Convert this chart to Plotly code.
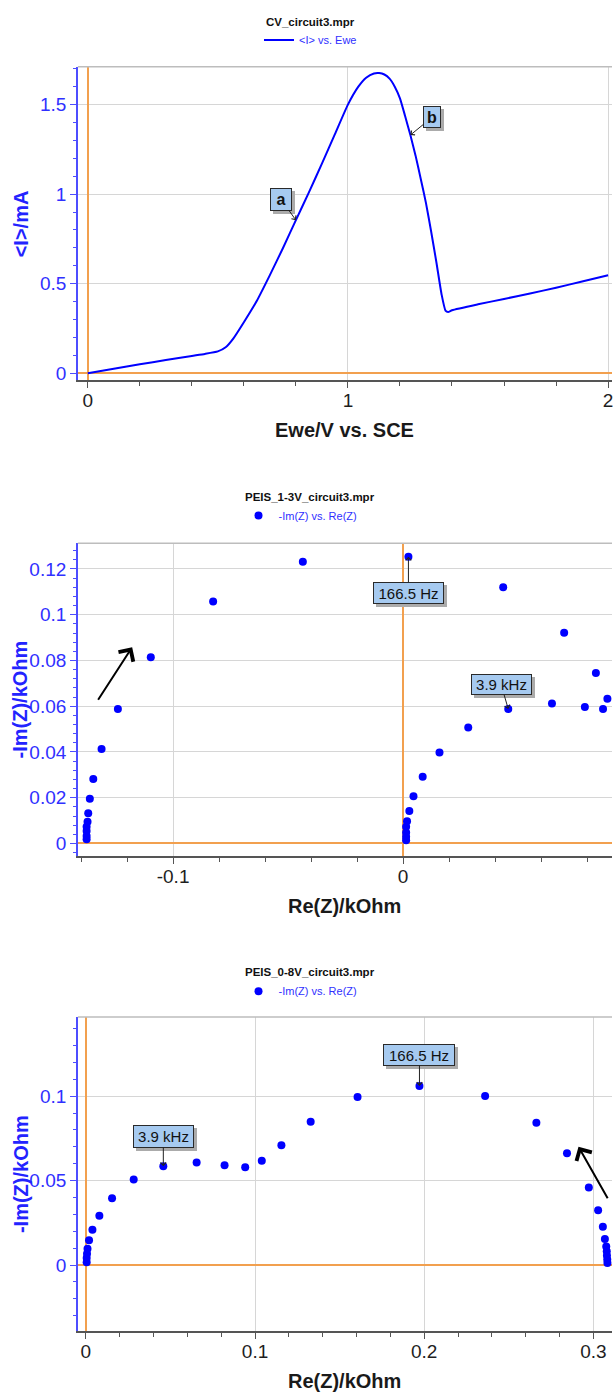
import plotly.graph_objects as go

# ---------------- data ----------------
cv_ewe = [0.00, 0.10, 0.20, 0.30, 0.40, 0.45, 0.50, 0.53, 0.56, 0.60, 0.65, 0.70,
          0.75, 0.80, 0.85, 0.90, 0.95, 1.00, 1.04, 1.07, 1.10, 1.12, 1.14, 1.16,
          1.18, 1.20, 1.22, 1.24, 1.26, 1.28, 1.30, 1.32, 1.34, 1.36, 1.375, 1.385,
          1.40, 1.50, 1.60, 1.70, 1.80, 1.90, 2.00]
cv_i = [0.000, 0.025, 0.050, 0.074, 0.097, 0.108, 0.122, 0.145, 0.195, 0.285, 0.405, 0.548,
        0.698, 0.855, 1.010, 1.170, 1.335, 1.500, 1.600, 1.650, 1.674, 1.676, 1.668, 1.645,
        1.600, 1.535, 1.435, 1.330, 1.215, 1.085, 0.950, 0.790, 0.620, 0.440, 0.350, 0.342,
        0.352, 0.385, 0.415, 0.445, 0.478, 0.512, 0.547]

peis13_re = [0.0013, 0.0013, 0.0013, 0.0013, 0.0017, 0.0027, 0.0045, 0.0085, 0.0158, 0.0283,
             0.0457, 0.0647, 0.0790, 0.0869, 0.0888, 0.0838, 0.0700, 0.0435, 0.0023, -0.0436,
             -0.0826, -0.1097, -0.1240, -0.1311, -0.1347, -0.1362, -0.1369, -0.1372, -0.1376,
             -0.1376, -0.1376, -0.1376]
peis13_im = [0.0014, 0.0029, 0.0048, 0.0073, 0.0097, 0.0142, 0.0206, 0.0292, 0.0398, 0.0507,
             0.0588, 0.0612, 0.0597, 0.0588, 0.0633, 0.0745, 0.0921, 0.1120, 0.1254, 0.1232,
             0.1058, 0.0814, 0.0588, 0.0413, 0.0282, 0.0196, 0.0132, 0.0095, 0.0073,
             0.0055, 0.0033, 0.0019]

peis08_re = [0.0005, 0.0005, 0.0007, 0.0010, 0.0019, 0.0039, 0.0080, 0.0155, 0.0283, 0.0458,
             0.0655, 0.0820, 0.0942, 0.1040, 0.1156, 0.1329, 0.1606, 0.1972, 0.2360, 0.2663,
             0.2844, 0.2973, 0.3028, 0.3056, 0.3068, 0.3076, 0.3079, 0.3080, 0.3082, 0.3083]
peis08_im = [0.0016, 0.0041, 0.0067, 0.0097, 0.0146, 0.0209, 0.0292, 0.0396, 0.0506, 0.0585,
             0.0608, 0.0591, 0.0579, 0.0617, 0.0709, 0.0849, 0.0995, 0.1061, 0.1001, 0.0843,
             0.0662, 0.0459, 0.0325, 0.0227, 0.0154, 0.0110, 0.0081, 0.0056, 0.0032, 0.0012]

panel_titles = ["CV_circuit3.mpr", "PEIS_1-3V_circuit3.mpr", "PEIS_0-8V_circuit3.mpr"]
series_names = ["<I> vs. Ewe", "-Im(Z) vs. Re(Z)", "-Im(Z) vs. Re(Z)"]
x_titles = ["Ewe/V vs. SCE", "Re(Z)/kOhm", "Re(Z)/kOhm"]
y_titles = ["<I>/mA", "-Im(Z)/kOhm", "-Im(Z)/kOhm"]
p2_x_tickvals = [-0.1, 0]
p2_x_ticktext = ["-0.1", "0"]

# labelled points: (text, index into the series)
cv_labels = [("a", 13), ("b", 27)]
p2_labels = [("166.5 Hz", 18), ("3.9 kHz", 10)]
p3_labels = [("3.9 kHz", 9), ("166.5 Hz", 17)]

# ---------------- styling ----------------
FONT = "Liberation Sans"
ORANGE = "#f2a04f"
GRID = "#d6d6d6"
BLUE_AX = "#4d4dff"
TXT_BLUE = "#3030ff"
DARK = "#555555"
W, H = 613, 1394


def px(p):
    return p / W


def py(p):
    return 1 - p / H


def esc(s):
    return s.replace("<", "&lt;").replace(">", "&gt;")


def xaxis_style(rng, dtick, mdtick, anchor, tickvals=None, ticktext=None):
    d = dict(domain=[px(78), 1], anchor=anchor, range=rng, tick0=0, dtick=dtick,
             showline=True, linecolor=DARK, linewidth=2, ticks="outside", ticklen=6,
             tickwidth=1, tickcolor=DARK, ticklabelstandoff=-4,
             tickfont=dict(family=FONT, size=19, color="#1e1e1e"),
             showgrid=True, gridcolor=GRID, gridwidth=1,
             zeroline=True, zerolinecolor=ORANGE, zerolinewidth=1.5,
             minor=dict(tickmode="linear", tick0=0, dtick=mdtick, ticks="outside",
                        ticklen=4, tickcolor=DARK, showgrid=False),
             ticklabeloverflow="allow", fixedrange=True)
    if tickvals is not None:
        d.update(tickmode="array", tickvals=tickvals, ticktext=ticktext)
    return d


def yaxis_style(rng, dtick, mdtick, anchor, domain):
    return dict(domain=domain, anchor=anchor, range=rng, tick0=0, dtick=dtick,
                showline=True, linecolor=BLUE_AX, linewidth=1.5, ticks="outside",
                ticklen=6, tickwidth=1, tickcolor=BLUE_AX,
                tickfont=dict(family=FONT, size=19, color=TXT_BLUE),
                showgrid=True, gridcolor=GRID, gridwidth=1,
                zeroline=True, zerolinecolor=ORANGE, zerolinewidth=2,
                minor=dict(tickmode="linear", tick0=0, dtick=mdtick, ticks="outside",
                           ticklen=3, tickcolor=BLUE_AX, showgrid=False),
                fixedrange=True)


fig = go.Figure()
fig.add_trace(go.Scatter(x=cv_ewe, y=cv_i, mode="lines", name=esc(series_names[0]),
                         line=dict(color="#0000ff", width=2, shape="spline", smoothing=0.5),
                         xaxis="x", yaxis="y", legend="legend"))
fig.add_trace(go.Scatter(x=peis13_re, y=peis13_im, mode="markers", name=esc(series_names[1]),
                         marker=dict(color="#0000ff", size=8),
                         xaxis="x2", yaxis="y2", legend="legend2"))
fig.add_trace(go.Scatter(x=peis08_re, y=peis08_im, mode="markers", name=esc(series_names[2]),
                         marker=dict(color="#0000ff", size=8),
                         xaxis="x3", yaxis="y3", legend="legend3"))

# panel geometry in reference pixels (top, bottom of plot area)
panels = [(67, 381), (544.7, 858.3), (1020, 1335)]
title_y = [22, 498, 975]
legend_y = [40, 517, 994]

leg_common = dict(font=dict(family=FONT, size=11, color=TXT_BLUE), bgcolor="rgba(0,0,0,0)",
                  xanchor="center", yanchor="middle", itemwidth=30, borderwidth=0)

fig.update_layout(
    width=W, height=H, margin=dict(l=0, r=0, t=0, b=0),
    paper_bgcolor="white", plot_bgcolor="white",
    font=dict(family=FONT),
    xaxis=xaxis_style([-0.038, 2.015], 1, 0.2, "y"),
    yaxis=yaxis_style([-0.037, 1.711], 0.5, 0.1, "x", [py(panels[0][1]), py(panels[0][0])]),
    xaxis2=xaxis_style([-0.1414, 0.0908], 0.1, 0.02, "y2", p2_x_tickvals, p2_x_ticktext),
    yaxis2=yaxis_style([-0.0054, 0.1313], 0.02, 0.004, "x2", [py(panels[1][1]), py(panels[1][0])]),
    xaxis3=xaxis_style([-0.0047, 0.311], 0.1, 0.02, "y3"),
    yaxis3=yaxis_style([-0.0392, 0.1469], 0.05, 0.01, "x3", [py(panels[2][1]), py(panels[2][0])]),
    legend=dict(x=px(311), y=py(legend_y[0]), **leg_common),
    legend2=dict(x=px(301), y=py(legend_y[1]), **leg_common),
    legend3=dict(x=px(301), y=py(legend_y[2]), **leg_common),
    showlegend=True, hovermode=False,
)

shapes = []
for k in ["", "2", "3"]:
    shapes.append(dict(type="line", xref="x%s domain" % k, yref="y%s domain" % k,
                       x0=0, x1=1, y0=1, y1=1, line=dict(color="#bdbdbd", width=1.5)))
fig.update_layout(shapes=shapes)

ann = []
for i in range(3):
    top, bot = panels[i]
    ann.append(dict(text=panel_titles[i], xref="paper", yref="paper", x=px(311), y=py(title_y[i]),
                    xanchor="center", yanchor="middle", showarrow=False,
                    font=dict(family=FONT, size=11.5, color="#111111", weight=700)))
    ann.append(dict(text=esc(x_titles[i]), xref="paper", yref="paper", x=px(345.5), y=py(bot + 50),
                    xanchor="center", yanchor="middle", showarrow=False,
                    font=dict(family=FONT, size=20, color="#1a1a1a", weight=700)))
    ann.append(dict(text=esc(y_titles[i]), xref="paper", yref="paper", x=px(21),
                    y=py((top + bot) / 2), xanchor="center", yanchor="middle",
                    textangle=-90, showarrow=False,
                    font=dict(family=FONT, size=20, color="#2323ff", weight=700)))


def add_label(xr, yr, x, y, text, ax, ay, w, h, bold=False, size=15):
    ann.append(dict(text=" ", xref=xr, yref=yr, x=x, y=y, ax=ax, ay=ay, showarrow=True,
                    arrowcolor="rgba(0,0,0,0)", arrowwidth=0.1, width=w + 2, height=h + 2,
                    bgcolor="#ababab", borderwidth=0, borderpad=0, xshift=3, yshift=-3))
    ann.append(dict(text=text, xref=xr, yref=yr, x=x, y=y, ax=ax, ay=ay, showarrow=True,
                    arrowhead=4, arrowsize=1.1, arrowwidth=1, arrowcolor="#222222",
                    width=w, height=h, bgcolor="#a6caf0", bordercolor="#2a2a2a",
                    borderwidth=1, borderpad=0,
                    font=dict(family=FONT, size=size, color="#111111",
                              weight=700 if bold else 400)))


# CV labels
(ta, ia), (tb, ib) = cv_labels
add_label("x", "y", cv_ewe[ia], cv_i[ia], ta, -15, -21, 20, 21, bold=True, size=16)
add_label("x", "y", cv_ewe[ib], cv_i[ib], tb, 22, -18, 16, 20, bold=True, size=16)
# PEIS 1-3V labels
add_label("x2", "y2", peis13_re[p2_labels[0][1]], peis13_im[p2_labels[0][1]], p2_labels[0][0], 0, 36, 69, 20)
add_label("x2", "y2", peis13_re[p2_labels[1][1]], peis13_im[p2_labels[1][1]], p2_labels[1][0], -7, -24, 59, 19)
# PEIS 0-8V labels
add_label("x3", "y3", peis08_re[p3_labels[0][1]], peis08_im[p3_labels[0][1]], p3_labels[0][0], 0, -30, 59, 21)
add_label("x3", "y3", peis08_re[p3_labels[1][1]], peis08_im[p3_labels[1][1]], p3_labels[1][0], 0, -31, 70, 20)

# big direction arrows
ann.append(dict(text="", xref="x2", yref="y2", x=-0.1178, y=0.0858, ax=-35, ay=54,
                showarrow=True, arrowhead=4, arrowsize=1.7, arrowwidth=2, arrowcolor="#000000"))
ann.append(dict(text="", xref="x3", yref="y3", x=0.2912, y=0.0701, ax=30, ay=53,
                showarrow=True, arrowhead=4, arrowsize=1.7, arrowwidth=2, arrowcolor="#000000"))

fig.update_layout(annotations=ann)

# remove the browser's default page margin so the figure fills the window exactly
page_fix = ("document.body.style.margin='0';"
            "document.body.style.padding='0';"
            "document.body.style.overflow='hidden';")
fig.write_html("out.html", post_script=page_fix, config={"displayModeBar": False})
